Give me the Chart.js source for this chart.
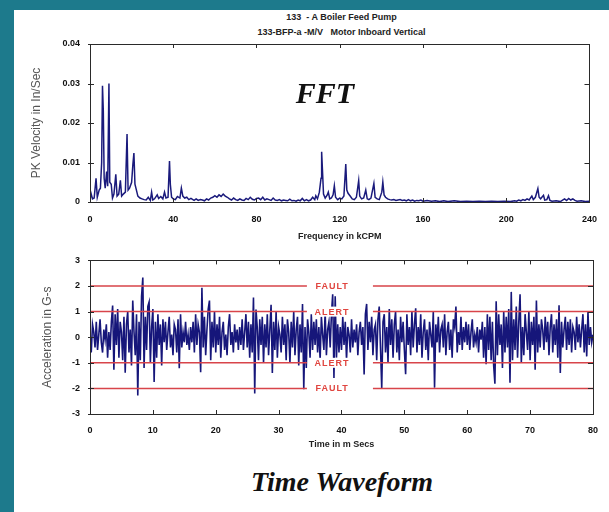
<!DOCTYPE html>
<html>
<head>
<meta charset="utf-8">
<script src="https://cdn.jsdelivr.net/npm/chart.js@4.4.1/dist/chart.umd.min.js"></script>
<style>
	html, body { margin: 0; padding: 0; }
	body { width: 609px; height: 512px; background: #1d7a8c; position: relative; overflow: hidden; }
	.panel { position: absolute; left: 14px; top: 10px; right: 0; bottom: 0; background: #fff; }
	.plot-title { position: absolute; left: 90px; width: 503px; text-align: center; line-height: 12px;
		font: bold 9px "Liberation Sans Narrow", "Liberation Sans", Arial, sans-serif; color: #222; }
	.big-label { position: absolute; transform: translate( -50%, -50% ); line-height: 1; white-space: nowrap;
		font: italic bold 30px "Liberation Serif", "DejaVu Serif", serif; color: #111; }
	canvas { position: absolute; left: 0; }
</style>
</head>
<body>
<div class="panel"></div>
<div class="plot-title" style="top: 12px">133&nbsp; - A Boiler Feed Pump</div>
<div class="plot-title" style="top: 27px">133-BFP-a -M/V&nbsp;&nbsp; Motor Inboard Vertical</div>
<canvas id="fft" width="609" height="250" style="top: 0"></canvas>
<canvas id="wave" width="609" height="215" style="top: 245px"></canvas>
<div class="big-label" style="left: 325px; top: 93px">FFT</div>
<div class="big-label" style="left: 342px; top: 482px; font-size: 28px">Time Waveform</div>

<script>
// spectrum, kCPM vs in/sec
const fftFreq = [
	0, 0.5, 1.2, 2, 2.9, 3.5, 4.4, 5, 5.6, 6, 6.4, 6.8, 7.3, 8, 8.5, 9.1, 9.5, 10.2, 10.8, 11.5,
	12.4, 13, 13.8, 14.6, 15.2, 16, 17, 17.8, 18.3, 19, 20, 20.6, 21.1, 21.6, 22.3, 23, 24, 25, 26, 27,
	28, 29, 29.6, 30.2, 31, 32.3, 33, 34, 35, 35.8, 36.5, 37.5, 38.2, 38.6, 39.2, 40, 41, 42, 43.2, 43.9,
	44.6, 45.5, 46.5, 47.5, 48.5, 50, 51, 52, 53, 54, 55, 56, 57, 58, 59, 60, 61, 62, 63, 64,
	65, 66, 67, 68, 69, 70, 71, 72, 73, 74, 75, 76, 77, 78, 79, 80, 81, 82, 83, 84,
	85, 86, 87, 88, 89, 90, 91, 92, 93, 94, 95, 96, 97, 98, 99, 100, 101, 102, 103, 104,
	105, 106, 107, 108, 108.5, 109.3, 110.2, 111, 111.3, 111.7, 112.2, 113, 114, 114.5, 115.2, 116, 116.8, 117.4, 118, 119,
	120, 121, 122, 122.9, 123.4, 124, 125, 126, 127, 128, 129.1, 129.6, 130.5, 131.5, 132.5, 133.2, 134, 135, 136.4, 137,
	138, 139, 140.2, 140.7, 141.3, 142, 143, 144, 145, 146, 147, 148, 149, 150, 151, 152, 153, 154, 155, 156,
	157, 158, 159, 160, 162, 164, 166, 168, 170, 172, 175, 178, 181, 184, 187, 190, 193, 196, 199, 202,
	204, 205, 206, 207, 208, 209, 210, 211, 212.3, 213, 214, 215.2, 215.8, 216.5, 217.9, 218.5, 219.5, 220.3, 221, 222,
	224, 226, 228, 229, 230, 231, 232, 233, 234, 236, 238, 240
];
const fftAmp = [
	0.0005, 0.0022, 0.0008, 0.001, 0.006, 0.0012, 0.003, 0.0035, 0.010, 0.0294, 0.023, 0.006, 0.0035, 0.0077, 0.004, 0.030, 0.005, 0.0045, 0.001, 0.002,
	0.007, 0.0015, 0.002, 0.0055, 0.0015, 0.002, 0.0025, 0.0172, 0.003, 0.0035, 0.005, 0.0095, 0.0124, 0.0045, 0.003, 0.0015, 0.001, 0.0008, 0.0006, 0.0005,
	0.0012, 0.0004, 0.0025, 0.0005, 0.0008, 0.0018, 0.0009, 0.0014, 0.0008, 0.0025, 0.001, 0.0012, 0.0104, 0.0045, 0.0012, 0.0008, 0.0006, 0.0014, 0.001, 0.0035,
	0.0015, 0.001, 0.0012, 0.0006, 0.0009, 0.0004, 0.0008, 0.0004, 0.0006, 0.0005, 0.0003, 0.0008, 0.0005, 0.001, 0.0012, 0.0016, 0.0012, 0.0018, 0.0014, 0.002,
	0.0015, 0.0012, 0.0008, 0.0005, 0.001, 0.0006, 0.0004, 0.0008, 0.0005, 0.0004, 0.0009, 0.0006, 0.0012, 0.0007, 0.0005, 0.0009, 0.001, 0.0006, 0.0012, 0.0005,
	0.0008, 0.0006, 0.0004, 0.001, 0.0005, 0.0004, 0.0006, 0.0003, 0.0005, 0.0004, 0.0003, 0.0007, 0.0003, 0.0004, 0.0002, 0.0005, 0.0003, 0.0009, 0.0003, 0.0006,
	0.0003, 0.0005, 0.0012, 0.0006, 0.0016, 0.0008, 0.0025, 0.006, 0.0127, 0.008, 0.002, 0.001, 0.0018, 0.0025, 0.0008, 0.001, 0.0018, 0.0041, 0.0012, 0.0006,
	0.001, 0.0008, 0.0015, 0.0096, 0.003, 0.0022, 0.0015, 0.0008, 0.0006, 0.0012, 0.0054, 0.0015, 0.0008, 0.001, 0.003, 0.0008, 0.0006, 0.001, 0.0047, 0.0012,
	0.0008, 0.0006, 0.0025, 0.005, 0.0018, 0.0012, 0.0008, 0.0006, 0.0005, 0.0006, 0.0004, 0.0005, 0.0006, 0.0004, 0.0005, 0.0003, 0.0006, 0.0003, 0.0005, 0.0002,
	0.0004, 0.0003, 0.0005, 0.0002, 0.0004, 0.0002, 0.0003, 0.0001, 0.0003, 0.0001, 0.0003, 0.0001, 0.0002, 0.0001, 0.0002, 0.0001, 0.0002, 0.0001, 0.0002, 0.0001,
	0.0003, 0.0002, 0.0005, 0.0003, 0.0006, 0.0004, 0.0008, 0.0005, 0.0015, 0.0006, 0.0012, 0.0034, 0.0012, 0.0008, 0.0017, 0.0005, 0.0006, 0.0016, 0.0004, 0.0002,
	0.0003, 0.0001, 0.0008, 0.0004, 0.0009, 0.0005, 0.0008, 0.0004, 0.0002, 0.0003, 0.0001, 0.0002
];

// waveform, one sample every 0.2 ms, in G-s
const waveStep = 0.2;
const waveAcc = [
	0.1, -0.6, 0.5, 0.2, -0.4, 0.6, -0.5, 0.1, 0.7, -0.2, -0.6, 0.3, -0.1, 0.5, -0.8, 0.2, -0.5, 0.6, 1.24, -1.27,
	0.9, -0.3, 1.1, -0.8, 0.6, 0.2, -0.9, 0.8, -1.39, 0.5, 1.0, -0.6, 0.3, -1.1, 1.43, 0.2, -0.7, 0.9, -2.28, 0.6,
	-0.9, 1.6, 2.33, -1.2, 0.8, -0.5, 1.2, 1.37, -1.0, 0.4, 1.1, -1.75, 0.6, -0.8, 0.9, -0.3, 0.5, -1.1, 0.7, -0.2,
	0.6, -0.5, 0.2, 0.8, -0.4, 0.1, -0.7, 0.5, 0.3, -0.6, 0.7, -1.21, 0.9, -0.4, 0.2, -0.2, 0.6, -0.3, 0.1, -0.5,
	0.4, -0.2, 0.6, -0.6, 0.9, -0.3, 0.5, 0.2, -1.37, 1.93, -0.4, 0.8, -0.7, 0.3, 1.1, 1.43, -0.9, 0.6, -0.4, 1.0,
	-0.6, 0.5, -0.3, 0.8, -0.8, 0.2, 0.6, -0.5, 0.1, -0.7, 0.4, 0.9, -0.3, 0.2, -0.6, 0.5, -0.2, 0.3, -0.5, 0.4,
	-0.3, 0.7, -0.5, 0.2, 0.9, -0.4, 0.6, -0.8, 0.5, -0.6, 1.55, -2.2, 1.08, 0.4, -0.9, 0.7, -0.3, 0.8, -1.0, 0.5,
	-0.4, 0.9, -0.7, 0.3, 1.27, -1.4, 0.6, -0.5, 1.0, -0.8, 0.4, 0.1, -0.6, 0.8, -0.3, 0.5, -0.9, 0.7, 0.2, -1.0,
	0.6, -0.4, 1.0, -0.7, 0.3, 0.8, -1.1, 0.5, -0.6, 1.3, -2.03, 0.4, -1.2, 0.7, 0.2, -0.8, 0.9, -0.5, 0.6, -0.3,
	0.7, -0.6, 0.4, -0.9, 0.8, 0.1, -0.5, 1.0, -0.7, 0.3, 0.6, -0.4, 0.9, 1.68, -1.59, 1.6, -0.8, 0.5, -0.6, 0.4,
	-0.5, 0.8, -0.3, 0.6, -0.9, 0.4, 0.1, -0.6, 0.7, -0.4, 0.3, -0.2, 0.5, -0.7, 0.2, 0.6, -0.3, 0.4, -1.46, 0.9,
	1.3, -0.5, 0.6, -0.2, 0.8, -0.7, 0.3, 0.5, -0.9, 0.7, 1.2, -0.4, -2.0, 0.6, 0.9, -0.6, 0.4, -1.0, 1.1, -0.3,
	0.7, -0.8, 0.5, 1.0, -0.6, 0.3, -0.9, 0.8, -0.2, 0.6, -0.5, -1.45, 0.9, -0.3, 0.4, -0.7, 1.0, -0.4, 0.5, 1.13,
	-0.6, 0.4, -0.3, 0.9, -0.8, 0.2, 0.7, -0.5, 0.3, -0.9, 0.6, 0.1, -0.4, 1.0, -1.97, 0.5, -0.2, 0.8, -0.6, 0.3,
	0.5, -0.4, 0.9, -0.7, 0.2, 0.6, -0.5, 0.3, -0.8, 0.7, 0.4, 1.2, -0.6, 0.2, -0.3, 0.8, -0.5, 0.4, -0.2, 0.6,
	-0.3, 0.5, -0.5, 0.2, 0.7, -0.4, 0.1, -0.2, 0.4, -0.6, 0.3, -0.1, 0.6, -0.8, 0.4, -1.06, 0.9, -0.5, 0.8, -0.9,
	0.6, -1.1, -1.82, 1.4, -0.7, 0.9, -0.3, 0.5, -1.2, 1.0, -0.6, 0.8, -0.4, 1.1, -1.78, 1.77, -0.9, 0.7, -0.5, 1.2,
	-0.8, 0.6, 1.68, -1.0, 0.4, -0.7, 0.9, 0.2, -0.5, 1.0, -0.9, 0.6, -0.3, 0.8, -1.27, 1.43, -0.6, 0.5, -0.4, 0.7,
	0.3, -0.5, 0.8, -0.2, 0.6, -0.7, 0.4, 0.9, -0.6, 0.5, -0.3, 0.7, -0.8, 1.25, -1.4, 0.6, -0.4, 0.3, 0.8, -0.5,
	0.6, -0.3, 0.7, -0.6, 0.4, 0.2, -0.5, 0.8, -0.2, 0.5, -0.4, 0.3, 0.9, -0.6, 0.5, -0.75, 1.0, -0.3, 0.4, -0.2,
	0.1
];

// alarm limits
const limitLevels = [ 2, 1, -1, -2 ];
const limitNames = [ "FAULT", "ALERT", "ALERT", "FAULT" ];
const limitGap = [ 34.5, 45 ];
const limitLabelAt = 38.5;

// tick labels
const fftXTicks = [ 0, 40, 80, 120, 160, 200, 240 ];
const fftYTicks = [ 0, 0.01, 0.02, 0.03, 0.04 ];
const waveXTicks = [ 0, 10, 20, 30, 40, 50, 60, 70, 80 ];
const waveYTicks = [ -3, -2, -1, 0, 1, 2, 3 ];

const TICK_FONT = { family: "'Liberation Sans Narrow', 'Liberation Sans', Arial, sans-serif", size: 9, weight: "bold" };
const TITLE_FONT = { family: "'Liberation Sans Narrow', 'Liberation Sans', Arial, sans-serif", size: 9, weight: "bold" };
const Y_TITLE_FONT = { family: "'Liberation Sans', Arial, sans-serif", size: 12, weight: "normal" };

// box round the plot with short inward tick marks on all four sides
const framePlugin = {
	id: "frame",
	afterDatasetsDraw( chart ) {
		const { ctx, chartArea: a, scales: { x, y } } = chart;
		ctx.save();
		ctx.strokeStyle = "#2a2a2a";
		ctx.lineWidth = 1;
		ctx.strokeRect( Math.round( a.left ) + 0.5, Math.round( a.top ) + 0.5, Math.round( a.right - a.left ), Math.round( a.bottom - a.top ) );
		ctx.beginPath();
		x.ticks.forEach( t => {
			const px = Math.round( x.getPixelForValue( t.value ) ) + 0.5;
			ctx.moveTo( px, a.bottom ); ctx.lineTo( px, a.bottom - 4 );
			ctx.moveTo( px, a.top ); ctx.lineTo( px, a.top + 4 );
		} );
		y.ticks.forEach( t => {
			const py = Math.round( y.getPixelForValue( t.value ) ) + 0.5;
			ctx.moveTo( a.left - 2, py ); ctx.lineTo( a.left + 4, py );
			ctx.moveTo( a.right, py ); ctx.lineTo( a.right - 5, py );
		} );
		ctx.stroke();
		ctx.restore();
	}
};

const limitLabelPlugin = {
	id: "limitLabels",
	afterDatasetsDraw( chart ) {
		const { ctx, scales: { x, y } } = chart;
		const cx = x.getPixelForValue( limitLabelAt );
		ctx.save();
		ctx.font = "bold 9px 'Liberation Sans', Arial, sans-serif";
		ctx.letterSpacing = "1px";
		ctx.textAlign = "center";
		ctx.textBaseline = "middle";
		limitLevels.forEach( ( level, i ) => {
			const py = y.getPixelForValue( level );
			const w = ctx.measureText( limitNames[ i ] ).width + 4;
			ctx.fillStyle = "#ffffff";
			ctx.fillRect( cx - w / 2, py - 5, w, 10 );
			ctx.fillStyle = "#e0453f";
			ctx.fillText( limitNames[ i ], cx, py + 0.5 );
		} );
		ctx.restore();
	}
};

function fixedTicks( list ) {
	return scale => { scale.ticks = list.map( v => ( { value: v } ) ); };
}

function axisX( min, max, ticks, title, padding, height ) {
	return {
		type: "linear", min, max
		, afterBuildTicks: fixedTicks( ticks )
		, afterFit: scale => { scale.height = height; }
		, grid: { display: false, drawTicks: false }
		, border: { display: false }
		, ticks: { font: TICK_FONT, color: "#111", padding, maxRotation: 0 }
		, title: { display: true, text: title, font: TITLE_FONT, color: "#222", padding: { top: 0, bottom: 4 } }
	};
}

function axisY( min, max, ticks, title, width, format ) {
	return {
		min, max
		, afterBuildTicks: fixedTicks( ticks )
		, afterFit: scale => { scale.width = width; }
		, grid: { display: false, drawTicks: false }
		, border: { display: false }
		, ticks: { font: TICK_FONT, color: "#111", padding: 10, callback: format }
		, title: { display: true, text: title, font: Y_TITLE_FONT, color: "#555", padding: { top: 4, bottom: 0 } }
	};
}

const common = {
	responsive: false
	, animation: false
	, plugins: { legend: { display: false }, tooltip: { enabled: false } }
	, elements: { point: { radius: 0 }, line: { tension: 0 } }
};

new Chart( document.getElementById( "fft" ), {
	type: "line"
	, data: {
		datasets: [ {
			data: fftFreq.map( ( f, i ) => ( { x: f, y: fftAmp[ i ] } ) )
			, borderColor: "#1a1a7c"
			, borderWidth: 1.5
		} ]
	}
	, options: Object.assign( {}, common, {
		layout: { padding: { left: 25, top: 44, right: 16, bottom: 4 } }
		, scales: {
			x: axisX( 0, 240, fftXTicks, "Frequency in kCPM", 12, 44 )
			, y: axisY( 0, 0.04, fftYTicks, "PK Velocity in In/Sec", 65, v => v === 0 ? "0" : v.toFixed( 2 ) )
		}
	} )
	, plugins: [ framePlugin ]
} );

const limitSets = limitLevels.map( level => ( {
	data: [
		{ x: 0, y: level }
		, { x: limitGap[ 0 ], y: level }
		, { x: ( limitGap[ 0 ] + limitGap[ 1 ] ) / 2, y: null }
		, { x: limitGap[ 1 ], y: level }
		, { x: 80, y: level }
	]
	, borderColor: "#d8444a"
	, borderWidth: 1.5
	, spanGaps: false
} ) );

new Chart( document.getElementById( "wave" ), {
	type: "line"
	, data: {
		datasets: limitSets.concat( [ {
			data: waveAcc.map( ( v, i ) => ( { x: i * waveStep, y: v } ) )
			, borderColor: "#16167a"
			, borderWidth: 1.6
		} ] )
	}
	, options: Object.assign( {}, common, {
		layout: { padding: { left: 36, top: 10, right: 16, bottom: 6 } }
		, scales: {
			x: axisX( 0, 80, waveXTicks, "Time in m Secs", 11, 40 )
			, y: axisY( -3, 3, waveYTicks, "Acceleration in G-s", 54, v => String( v ) )
		}
	} )
	, plugins: [ limitLabelPlugin, framePlugin ]
} );
</script>
</body>
</html>
